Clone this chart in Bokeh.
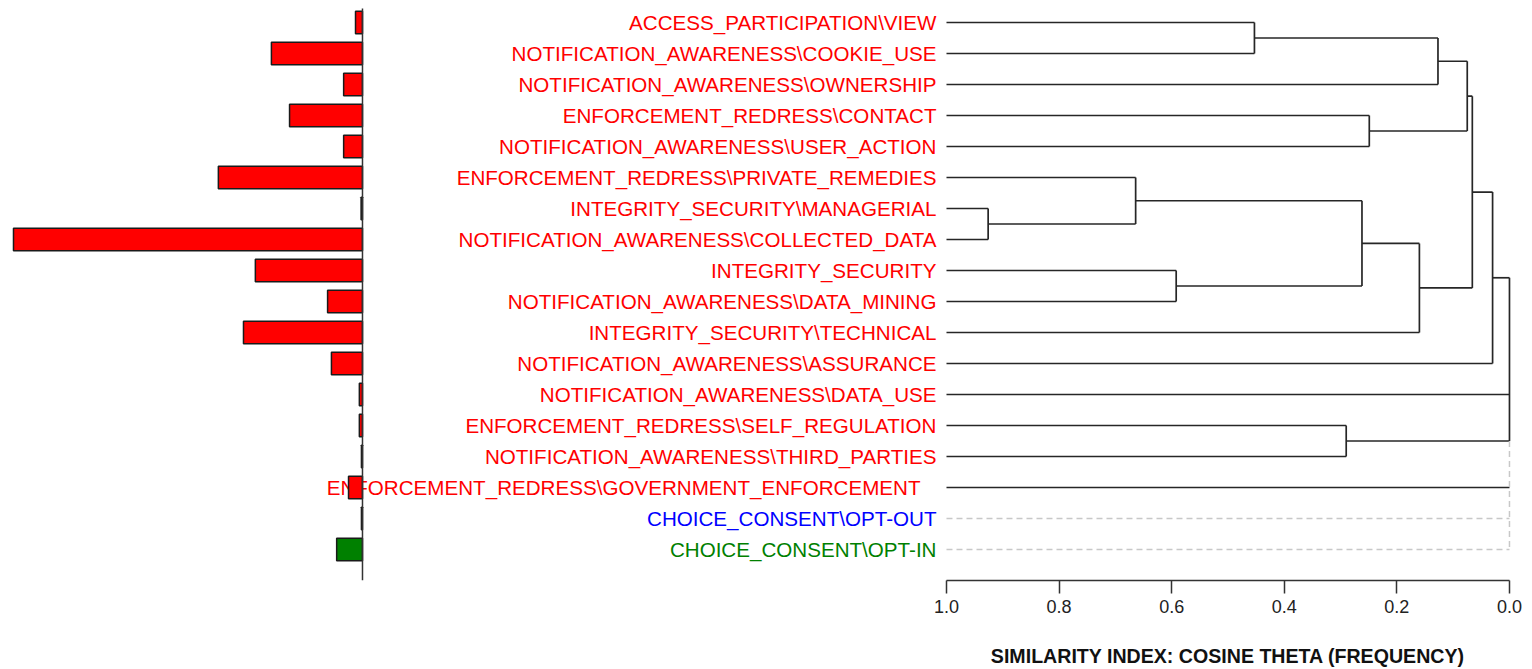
from bokeh.plotting import figure
from bokeh.layouts import column
from bokeh.models import Range1d, LinearAxis, FixedTicker, PrintfTickFormatter, ColumnDataSource
from bokeh.core.properties import value
from bokeh.embed import file_html
from bokeh.resources import INLINE

# Coded categories, in dendrogram order (top to bottom)
codes = [
    "ACCESS_PARTICIPATION\\VIEW",
    "NOTIFICATION_AWARENESS\\COOKIE_USE",
    "NOTIFICATION_AWARENESS\\OWNERSHIP",
    "ENFORCEMENT_REDRESS\\CONTACT",
    "NOTIFICATION_AWARENESS\\USER_ACTION",
    "ENFORCEMENT_REDRESS\\PRIVATE_REMEDIES",
    "INTEGRITY_SECURITY\\MANAGERIAL",
    "NOTIFICATION_AWARENESS\\COLLECTED_DATA",
    "INTEGRITY_SECURITY",
    "NOTIFICATION_AWARENESS\\DATA_MINING",
    "INTEGRITY_SECURITY\\TECHNICAL",
    "NOTIFICATION_AWARENESS\\ASSURANCE",
    "NOTIFICATION_AWARENESS\\DATA_USE",
    "ENFORCEMENT_REDRESS\\SELF_REGULATION",
    "NOTIFICATION_AWARENESS\\THIRD_PARTIES",
    "ENFORCEMENT_REDRESS\\GOVERNMENT_ENFORCEMENT",
    "CHOICE_CONSENT\\OPT-OUT",
    "CHOICE_CONSENT\\OPT-IN",
]
code_colors = ["#ff0000"] * 16 + ["#0000ff", "#008000"]

# Relative frequency of each code (bar length)
freq = [2.0, 26.1, 5.4, 20.9, 5.4, 41.3, 0.4, 100.0, 30.7, 10.0,
        34.1, 8.9, 0.9, 0.9, 0.3, 4.0, 0.3, 7.4]

# Agglomeration steps: ids >= len(codes) refer to earlier merges
merge_a = [0, 18, 3, 19, 6, 5, 8, 23, 25, 21, 27, 13]
merge_b = [1, 2, 4, 20, 7, 22, 9, 24, 10, 26, 11, 14]
merge_sim = [0.453, 0.127, 0.249, 0.075, 0.926, 0.664, 0.592, 0.262,
             0.160, 0.066, 0.030, 0.290]

# Clusters joined at zero similarity, and codes left unlinked
root_members = [28, 12, 29]
root_sim = 0.0
unlinked = [15, 16, 17]
unlinked_dashed = [16, 17]

tick_values = [0.0, 0.2, 0.4, 0.6, 0.8, 1.0]
caption = "SIMILARITY INDEX: COSINE THETA (FREQUENCY)"

n = len(codes)
rows = list(range(n))

p = figure(width=1532, height=629,
           x_range=Range1d(2.6803, -0.0409), y_range=Range1d(18.0, -0.7097),
           x_axis_location=None, y_axis_location=None,
           output_backend="svg", toolbar_location=None,
           min_border_left=0, min_border_right=0, min_border_top=0,
           min_border_bottom=49)
p.extra_x_ranges = {"bars": Range1d(103.72, -335.24)}
p.grid.visible = False
p.outline_line_color = None
p.background_fill_color = "white"
p.border_fill_color = "white"

# --- dendrogram geometry ---
ypos = {i: float(i) for i in rows}
spos = {i: 1.0 for i in rows}
hx0, hx1, hy = [], [], []
vx, vy0, vy1 = [], [], []
for k, (a, b, s) in enumerate(zip(merge_a, merge_b, merge_sim)):
    node = n + k
    for c in (a, b):
        hx0.append(spos[c]); hx1.append(s); hy.append(ypos[c])
    vx.append(s); vy0.append(ypos[a]); vy1.append(ypos[b])
    ypos[node] = (ypos[a] + ypos[b]) / 2
    spos[node] = s

for c in root_members:
    hx0.append(spos[c]); hx1.append(root_sim); hy.append(ypos[c])
root_top = min(ypos[c] for c in root_members)
root_bot = max(ypos[c] for c in root_members)
vx.append(root_sim); vy0.append(root_top); vy1.append(root_bot)

dx0, dx1, dy = [], [], []
for c in unlinked:
    if c in unlinked_dashed:
        dx0.append(1.0); dx1.append(root_sim); dy.append(ypos[c])
    else:
        hx0.append(1.0); hx1.append(root_sim); hy.append(ypos[c])

line_col = "#262626"
p.segment(x0=hx0, x1=hx1, y0=hy, y1=hy, line_color=line_col, line_width=1.7)
p.segment(x0=vx, x1=vx, y0=vy0, y1=vy1, line_color=line_col, line_width=1.7)

dash_col = "#c8c8c8"
p.segment(x0=dx0, x1=dx1, y0=dy, y1=dy, line_color=dash_col,
          line_width=1.5, line_dash="6 4")
p.segment(x0=[root_sim], x1=[root_sim], y0=[root_bot],
          y1=[max(ypos[c] for c in unlinked)], line_color=dash_col,
          line_width=1.5, line_dash="6 4")

# --- code labels (the longest one is pushed a little further left) ---
offsets = [-10.0] * n
longest = max(rows, key=lambda i: len(codes[i]))
offsets[longest] = -26.0
label_src = ColumnDataSource(dict(x=[1.0] * n, y=rows, text=codes,
                                  color=code_colors, dx=offsets))
p.text(x="x", y="y", text="text", source=label_src, text_color="color",
       text_align="right", text_baseline="middle", x_offset="dx",
       text_font=value("Liberation Sans"), text_font_size="20.6px")

# --- frequency bars (drawn leftwards from a baseline) ---
bar_src = ColumnDataSource(dict(y=rows, right=freq, color=code_colors))
p.hbar(y="y", left=0, right="right", height=0.72, source=bar_src,
       x_range_name="bars", fill_color="color", line_color="#1a1a1a",
       line_width=1.5)
p.segment(x0=[0], x1=[0], y0=[-0.45], y1=[18.0], x_range_name="bars",
          line_color="#333333", line_width=1.5)

# --- similarity axis ---
ax = LinearAxis(bounds=(0, 1), ticker=FixedTicker(ticks=tick_values),
                formatter=PrintfTickFormatter(format="%.1f"))
ax.axis_line_color = "#333333"
ax.axis_line_width = 1.5
ax.major_tick_line_color = "#333333"
ax.major_tick_line_width = 1.5
ax.major_tick_out = 13
ax.major_tick_in = 0
ax.minor_tick_line_color = None
ax.major_label_standoff = 6
ax.major_label_text_font = "Liberation Sans"
ax.major_label_text_font_size = "18px"
ax.major_label_text_color = "#222222"
p.add_layout(ax, "below")

# --- axis caption strip, sharing the similarity scale ---
cap = figure(width=1532, height=40, x_range=p.x_range, y_range=Range1d(40, 0),
             x_axis_location=None, y_axis_location=None,
             output_backend="svg", toolbar_location=None,
             min_border_left=0, min_border_right=0, min_border_top=0,
             min_border_bottom=0)
cap.grid.visible = False
cap.outline_line_color = None
cap.border_fill_color = "white"
cap.text(x=[0.5], y=[26], text=[caption], text_align="center",
         text_baseline="middle", text_font=value("Liberation Sans"),
         text_font_style="bold", text_font_size="19.6px", text_color="#111111")

open("out.html", "w").write(file_html(column(p, cap, spacing=0), INLINE))
